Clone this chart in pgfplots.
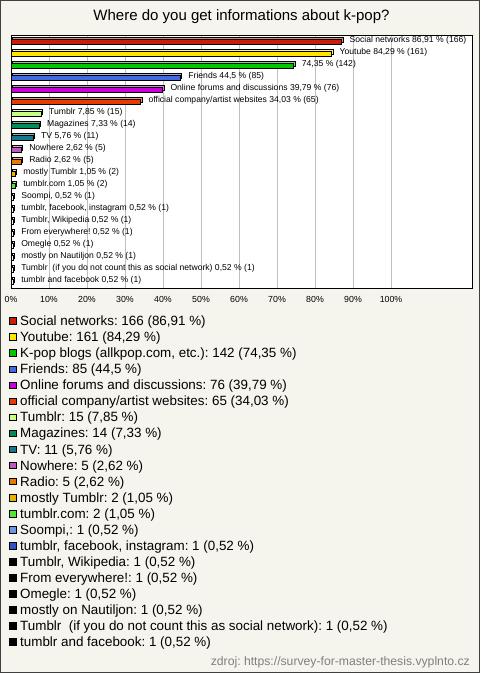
\documentclass[border=0pt]{standalone}
\usepackage{fontspec}
\setmainfont{Liberation Sans}
\usepackage{pgfplots}
\pgfplotsset{compat=1.18}
\frenchspacing
\definecolor{bg}{RGB}{245,244,237}
\definecolor{c1}{RGB}{200,30,10}
\definecolor{c2}{RGB}{255,230,0}
\definecolor{c3}{RGB}{0,200,0}
\definecolor{c4}{RGB}{65,105,225}
\definecolor{c5}{RGB}{200,0,220}
\definecolor{c6}{RGB}{230,60,0}
\definecolor{c7}{RGB}{200,255,130}
\definecolor{c8}{RGB}{0,140,90}
\definecolor{c9}{RGB}{20,120,140}
\definecolor{c10}{RGB}{190,90,190}
\definecolor{c11}{RGB}{230,120,0}
\definecolor{c12}{RGB}{230,180,0}
\definecolor{c13}{RGB}{80,230,50}
\definecolor{c14}{RGB}{110,150,230}
\definecolor{c15}{RGB}{50,80,200}
\definecolor{c16}{RGB}{0,0,0}
\pgfplotsset{bar3d/.style={fill=#1, draw=black, line width=0.6pt,
  preaction={fill=#1!55!white, draw=black, line width=0.6pt, transform canvas={xshift=1.6pt,yshift=1.6pt}}}}
\begin{document}
\frenchspacing
\begin{tikzpicture}
\fill[bg] (0,0) rectangle (480pt,-673pt);
\draw[black!75, line width=1pt] (0.5pt,-0.5pt) rectangle (479.5pt,-672.5pt);
\begin{axis}[
  at={(11pt,-35pt)}, anchor=north west,
  scale only axis, width=461pt, height=253pt,
  xmin=0, xmax=121.3, ymin=-0.54, ymax=20.54, y dir=reverse,
  axis background/.style={fill=white},
  axis line style={black, line width=0.8pt},
  xtick={0,10,20,30,40,50,60,70,80,90,100},
  xticklabels={0\%,10\%,20\%,30\%,40\%,50\%,60\%,70\%,80\%,90\%,100\%},
  ytick=\empty,
  xmajorgrids, grid style={black!25, line width=0.6pt},
  major tick length=0pt,
  xticklabel style={font=\fontsize{8.8}{10}\selectfont, anchor=center, yshift=-11pt, inner sep=0pt},
  title={Where do you get informations about k-pop?},
  title style={font=\fontsize{15}{18}\selectfont, at={(0.5,1)}, anchor=base, yshift=9pt},
  xbar, bar width=4.8pt, bar shift=0pt,
  point meta=explicit symbolic,
  nodes near coords={\pgfplotspointmeta},
  nodes near coords style={font=\fontsize{8.6}{10}\selectfont, anchor=west, inner sep=0pt, xshift=8pt, yshift=0.8pt},
  legend image code/.code={\draw[#1, draw=black, line width=0.6pt] (0pt,-3.3pt) rectangle (6.6pt,3.3pt);},
  legend cell align=left,
  legend style={at={(axis description cs:0,0)}, anchor=north west, xshift=-1.5pt, yshift=-28.3pt,
    draw=none, fill=none, inner sep=0pt, outer sep=0pt, row sep=6.75pt, column sep=3.5pt,
    font=\fontsize{13.4}{15}\selectfont, nodes={inner sep=0pt, text height=9.3pt, text depth=0pt}},
]
\addplot[bar3d=c1, forget plot] coordinates {(86.91,0) [Social networks 86,91 \% (166)]};
\addplot[bar3d=c2, forget plot] coordinates {(84.29,1) [Youtube 84,29 \% (161)]};
\addplot[bar3d=c3, forget plot] coordinates {(74.35,2) [74,35 \% (142)]};
\addplot[bar3d=c4, forget plot] coordinates {(44.5,3) [Friends 44,5 \% (85)]};
\addplot[bar3d=c5, forget plot] coordinates {(39.79,4) [Online forums and discussions 39,79 \% (76)]};
\addplot[bar3d=c6, forget plot] coordinates {(34.03,5) [official company/artist websites 34,03 \% (65)]};
\addplot[bar3d=c7, forget plot] coordinates {(7.85,6) [Tumblr 7,85 \% (15)]};
\addplot[bar3d=c8, forget plot] coordinates {(7.33,7) [Magazines 7,33 \% (14)]};
\addplot[bar3d=c9, forget plot] coordinates {(5.76,8) [TV 5,76 \% (11)]};
\addplot[bar3d=c10, forget plot] coordinates {(2.62,9) [Nowhere 2,62 \% (5)]};
\addplot[bar3d=c11, forget plot] coordinates {(2.62,10) [Radio 2,62 \% (5)]};
\addplot[bar3d=c12, forget plot] coordinates {(1.05,11) [mostly Tumblr 1,05 \% (2)]};
\addplot[bar3d=c13, forget plot] coordinates {(1.05,12) [tumblr.com 1,05 \% (2)]};
\addplot[bar3d=white, forget plot] coordinates {(0.52,13) [Soompi, 0,52 \% (1)]};
\addplot[bar3d=white, forget plot] coordinates {(0.52,14) [tumblr, facebook, instagram 0,52 \% (1)]};
\addplot[bar3d=white, forget plot] coordinates {(0.52,15) [Tumblr, Wikipedia 0,52 \% (1)]};
\addplot[bar3d=white, forget plot] coordinates {(0.52,16) [From everywhere! 0,52 \% (1)]};
\addplot[bar3d=white, forget plot] coordinates {(0.52,17) [Omegle 0,52 \% (1)]};
\addplot[bar3d=white, forget plot] coordinates {(0.52,18) [mostly on Nautiljon 0,52 \% (1)]};
\addplot[bar3d=white, forget plot] coordinates {(0.52,19) [Tumblr\ \ (if you do not count this as social network) 0,52 \% (1)]};
\addplot[bar3d=white, forget plot] coordinates {(0.52,20) [tumblr and facebook 0,52 \% (1)]};
\addlegendimage{fill=c1}\addlegendentry{Social networks: 166 (86,91 \%)}
\addlegendimage{fill=c2}\addlegendentry{Youtube: 161 (84,29 \%)}
\addlegendimage{fill=c3}\addlegendentry{K-pop blogs (allkpop.com, etc.): 142 (74,35 \%)}
\addlegendimage{fill=c4}\addlegendentry{Friends: 85 (44,5 \%)}
\addlegendimage{fill=c5}\addlegendentry{Online forums and discussions: 76 (39,79 \%)}
\addlegendimage{fill=c6}\addlegendentry{official company/artist websites: 65 (34,03 \%)}
\addlegendimage{fill=c7}\addlegendentry{Tumblr: 15 (7,85 \%)}
\addlegendimage{fill=c8}\addlegendentry{Magazines: 14 (7,33 \%)}
\addlegendimage{fill=c9}\addlegendentry{TV: 11 (5,76 \%)}
\addlegendimage{fill=c10}\addlegendentry{Nowhere: 5 (2,62 \%)}
\addlegendimage{fill=c11}\addlegendentry{Radio: 5 (2,62 \%)}
\addlegendimage{fill=c12}\addlegendentry{mostly Tumblr: 2 (1,05 \%)}
\addlegendimage{fill=c13}\addlegendentry{tumblr.com: 2 (1,05 \%)}
\addlegendimage{fill=c14}\addlegendentry{Soompi,: 1 (0,52 \%)}
\addlegendimage{fill=c15}\addlegendentry{tumblr, facebook, instagram: 1 (0,52 \%)}
\addlegendimage{fill=c16}\addlegendentry{Tumblr, Wikipedia: 1 (0,52 \%)}
\addlegendimage{fill=c16}\addlegendentry{From everywhere!: 1 (0,52 \%)}
\addlegendimage{fill=c16}\addlegendentry{Omegle: 1 (0,52 \%)}
\addlegendimage{fill=c16}\addlegendentry{mostly on Nautiljon: 1 (0,52 \%)}
\addlegendimage{fill=c16}\addlegendentry{Tumblr\ \ (if you do not count this as social network): 1 (0,52 \%)}
\addlegendimage{fill=c16}\addlegendentry{tumblr and facebook: 1 (0,52 \%)}
\end{axis}
\node[anchor=base east, font=\fontsize{12.2}{14}\selectfont, text=black!50, inner sep=0pt] at (470pt,-665pt) {zdroj: https://survey-for-master-thesis.vyplnto.cz};
\pgfresetboundingbox
\path[use as bounding box] (0,0) rectangle (480pt,-673pt);
\end{tikzpicture}
\end{document}
